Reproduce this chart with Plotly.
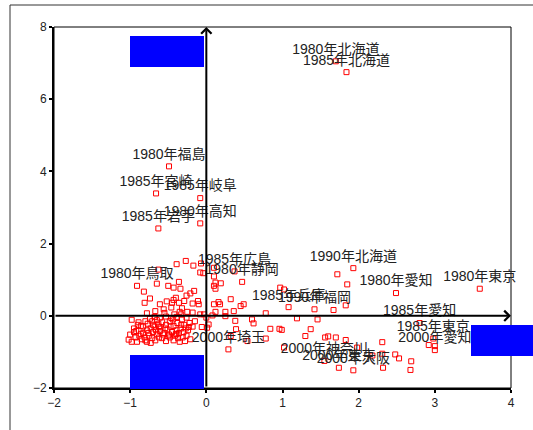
import plotly.graph_objects as go

# ---- data ----
lab_names = ["1980年北海道", "1985年北海道", "1980年福島", "1985年宮崎", "1985年岐阜",
             "1985年岩手", "1980年高知", "1980年鳥取", "1985年広島", "1980年静岡",
             "1985年兵庫", "1990年福岡", "1990年北海道", "1980年愛知", "1980年東京",
             "1985年愛知", "1985年東京", "2000年愛知", "2000年神奈川", "2000年埼玉",
             "2000年東京", "2000年大阪"]
lab_x = [1.70, 1.84, -0.49, -0.66, -0.08, -0.63, -0.08, -0.91, 0.37, 0.47,
         1.08, 1.42, 1.93, 2.49, 3.59, 2.80, 2.98, 3.00, 1.55, 0.29, 1.74, 1.93]
lab_y = [7.05, 6.75, 4.14, 3.39, 3.26, 2.42, 2.56, 0.83, 1.23, 0.94,
         0.24, 0.18, 1.32, 0.63, 0.75, -0.20, -0.63, -0.95, -1.25, -0.93, -1.44, -1.51]

# unlabeled points: upper-left group
ul_x = [-0.27, -0.39, -0.17, -0.07, -0.63, -0.65, -0.50, -0.43, -0.34, -0.16, -0.82, -0.74,
        -0.81, -0.61, -0.40, -0.45, -0.36, -0.26, -0.21, -0.11, -0.18, -0.46, -0.32, -0.55,
        -0.42, -0.33, -0.18, -0.08, -0.78, -0.67, -0.56, -0.08, -0.36, -0.52, -0.43, -0.29,
        -0.10, -0.35, -0.25]
ul_y = [1.52, 1.43, 1.39, 1.45, 1.28, 0.89, 0.83, 0.78, 0.75, 0.69, 0.67, 0.48,
        0.36, 0.32, 0.50, 0.36, 0.36, 0.56, 0.62, 0.41, 0.34, 0.23, 0.21, 0.08,
        0.04, 0.04, 0.09, 0.04, 0.07, 0.13, 0.18, 1.20, 0.94, 0.40, 0.44, 0.41,
        0.32, 0.11, 0.11]

# dense group below the horizontal axis on the left
bl_x = [-0.98, -1.00, -0.92, -0.86, -0.80, -0.74, -0.68, -0.61, -0.53, -0.46, -0.39, -0.32, -0.26,
        -0.93, -0.88, -0.83, -0.78, -0.73, -0.68, -0.63, -0.58, -0.53, -0.48, -0.43, -0.38, -0.34,
        -0.29, -0.24, -0.91, -0.85, -0.81, -0.75, -0.71, -0.65, -0.61, -0.55, -0.51, -0.45, -0.41,
        -0.36, -0.31, -0.26, -0.78, -0.73, -0.67, -0.58, -0.53, -0.48, -0.43, -0.35, -0.28, -0.21,
        -0.95, -0.89, -0.83, -0.77, -0.71, -0.65, -0.60, -0.49, -0.39, -0.30, -0.18, -0.15,
        -0.98, -1.02,
        -0.95, -0.90, -0.86, -0.80, -0.76, -0.70, -0.66, -0.62, -0.57, -0.54, -0.50, -0.47,
        -0.44, -0.40, -0.37, -0.33, -0.27, -0.22, -0.70, -0.62]
bl_y = [-0.72, -0.52, -0.42, -0.28, -0.15, -0.08, -0.03, -0.05, -0.02, -0.06, -0.03, -0.10, -0.05,
        -0.60, -0.55, -0.48, -0.40, -0.35, -0.30, -0.22, -0.18, -0.25, -0.15, -0.28, -0.20, -0.35,
        -0.25, -0.40, -0.72, -0.65, -0.60, -0.55, -0.62, -0.50, -0.42, -0.48, -0.38, -0.45, -0.55,
        -0.48, -0.60, -0.55, -0.72, -0.75, -0.68, -0.62, -0.70, -0.60, -0.68, -0.72, -0.70, -0.65,
        -0.35, -0.18, -0.30, -0.22, -0.15, -0.12, -0.32, -0.52, -0.40, -0.45, -0.30, -0.15,
        -0.11, -0.66,
        -0.45, -0.25, -0.50, -0.68, -0.48, -0.45, -0.40, -0.60, -0.52, -0.35, -0.55, -0.30,
        -0.10, -0.50, -0.62, -0.25, -0.35, -0.20, -0.25, -0.30]

# group right of the vertical axis
c_x = [-0.04, 0.10, 0.12, 0.19, 0.10, 0.12, 0.32, 0.16, 0.18, 0.10, 0.49, 0.36, 0.25, 0.12,
       0.08, 0.25, -0.03, 0.00, 0.78, 0.97, 1.02, 1.19, 1.46, 0.38, 0.60, 0.62, 0.01, 0.84,
       0.96, 0.99, 1.37, 0.78, 0.54, 1.60, 0.39, 0.32, 0.45, 0.03, -0.06, -0.23, -0.39, 0.10,
       1.02, 1.30]
c_y = [1.18, 1.09, 0.92, 0.90, 0.83, 0.75, 0.46, 0.38, 0.32, 0.32, 0.32, 0.13, 0.11, 0.11,
       0.01, -0.01, 0.04, -0.05, 0.07, 0.78, 0.73, -0.07, -0.10, -0.14, -0.10, -0.21, -0.33, -0.36,
       -0.36, -0.39, -0.37, -0.63, -0.70, -0.57, -0.37, -0.56, 0.27, -0.24, -0.31, -0.31, -0.51, 1.33,
       -0.88, -0.56]

# far-right group
r_x = [1.72, 1.85, 1.83, 1.67, 1.56, 1.70, 1.83, 1.98, 2.31, 2.31, 2.48, 2.53, 2.69, 2.68,
       2.32, 2.18, 2.92, 3.00]
r_y = [1.15, 0.87, 0.29, 0.16, -0.60, -0.60, -0.67, -0.88, -0.73, -1.05, -1.07, -1.18, -1.26, -1.50,
       -1.44, -1.10, -0.81, -0.84]

x_ticks = [-2, -1, 0, 1, 2, 3, 4]
y_ticks = [-2, 0, 2, 4, 6, 8]

# ---- layout constants (pixels) ----
W_PX, H_PX = 533, 430
L, R, T, B = 54, 22, 27, 42
PW, PH = W_PX - L - R, H_PX - T - B

def px_x(p):
    return (p - L) / PW

def px_y(p):
    return 1 - (p - T) / PH

ux = ul_x + bl_x + c_x + r_x
uy = ul_y + bl_y + c_y + r_y

fig = go.Figure()
fig.add_trace(go.Scatter(
    x=ux, y=uy, mode="markers",
    marker=dict(symbol="square-open", size=5, color="#ff0000", line=dict(width=1, color="#ff0000")),
    hoverinfo="skip", showlegend=False, cliponaxis=False))
fig.add_trace(go.Scatter(
    x=lab_x, y=lab_y, mode="markers+text", text=lab_names, textposition="top center",
    textfont=dict(size=14, color="#222222", family="Liberation Sans, Noto Sans CJK JP"),
    marker=dict(symbol="square-open", size=5, color="#ff0000", line=dict(width=1, color="#ff0000")),
    showlegend=False, cliponaxis=False))

axis_common = dict(showgrid=False, zeroline=False, showline=True, linecolor="black", linewidth=2,
                   ticks="outside", ticklen=3, tickwidth=2, tickcolor="black",
                   tickfont=dict(size=12, color="#222222", family="Liberation Sans, Arial"))
fig.update_xaxes(range=[-2, 4], tickvals=x_ticks, **axis_common)
fig.update_yaxes(range=[-2, 8], tickvals=y_ticks, **axis_common)

shapes = [
    # plot frame (thin top/right)
    dict(type="rect", xref="paper", yref="paper", x0=0, y0=0, x1=1, y1=1,
         line=dict(color="black", width=1), layer="below"),
    # outer frame
    dict(type="rect", xref="paper", yref="paper", x0=px_x(10), y0=px_y(445), x1=px_x(545), y1=px_y(5),
         line=dict(color="#333333", width=1), layer="below"),
    # blue boxes
    dict(type="rect", xref="paper", yref="paper", x0=px_x(130), x1=px_x(204), y0=px_y(67), y1=px_y(36),
         fillcolor="#0000ff", line=dict(width=0), layer="above"),
    dict(type="rect", xref="paper", yref="paper", x0=px_x(130), x1=px_x(204), y0=px_y(389), y1=px_y(355),
         fillcolor="#0000ff", line=dict(width=0), layer="above"),
    dict(type="rect", xref="paper", yref="paper", x0=px_x(471), x1=px_x(540), y0=px_y(356), y1=px_y(325),
         fillcolor="#0000ff", line=dict(width=0), layer="above"),
]

annotations = [
    dict(x=0, y=8, ax=0, ay=-2, xref="x", yref="y", axref="x", ayref="y", text="",
         showarrow=True, arrowhead=4, arrowsize=1, arrowwidth=2, arrowcolor="black"),
    dict(x=4, y=0, ax=-2, ay=0, xref="x", yref="y", axref="x", ayref="y", text="",
         showarrow=True, arrowhead=4, arrowsize=1, arrowwidth=2, arrowcolor="black"),
]

fig.update_layout(width=W_PX, height=H_PX, margin=dict(l=L, r=R, t=T, b=B),
                  paper_bgcolor="white", plot_bgcolor="white",
                  shapes=shapes, annotations=annotations, showlegend=False)

fig.write_html("out.html", config={"displayModeBar": False},
               post_script="document.body.style.margin='0';document.body.style.overflow='hidden';")
